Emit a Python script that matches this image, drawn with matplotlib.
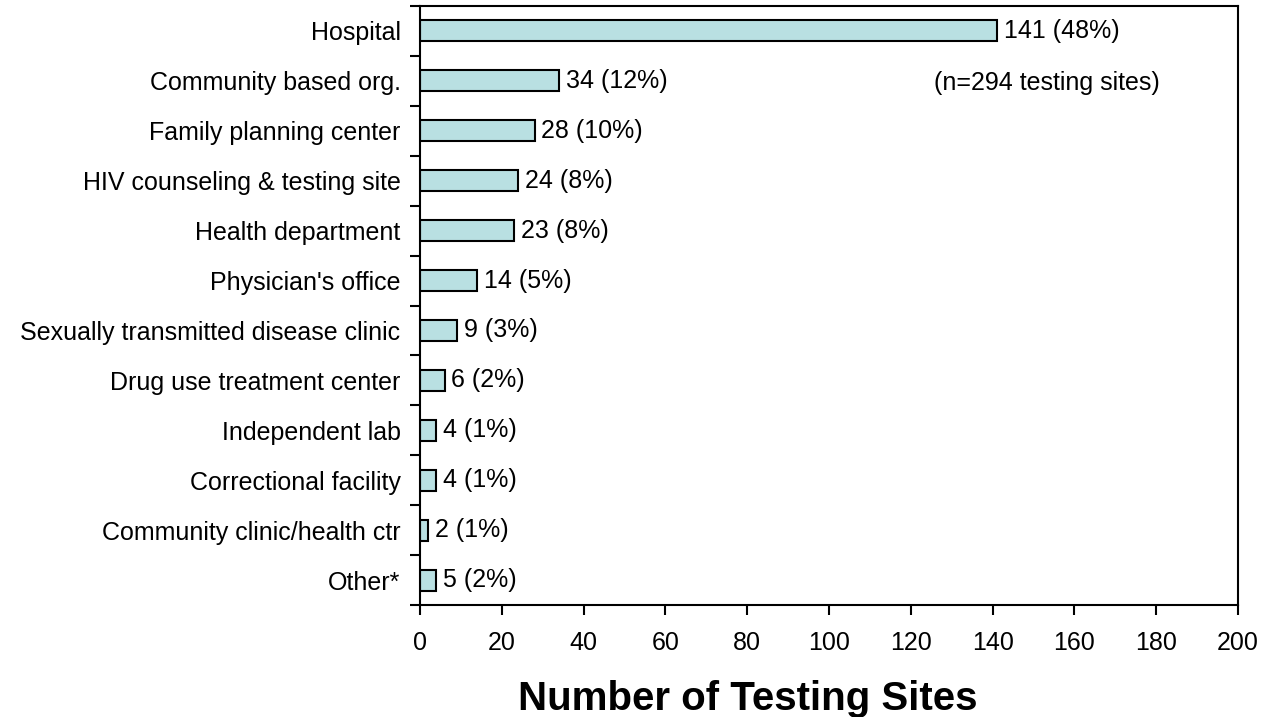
import numpy as np
import matplotlib
matplotlib.use('Agg')
import matplotlib.pyplot as plt

plt.rcParams['font.family'] = ['Liberation Sans', 'DejaVu Sans']

sites = ['Hospital', 'Community based org.', 'Family planning center',
         'HIV counseling & testing site', 'Health department',
         "Physician's office", 'Sexually transmitted disease clinic',
         'Drug use treatment center', 'Independent lab',
         'Correctional facility', 'Community clinic/health ctr', 'Other*']
counts = [141, 34, 28, 24, 23, 14, 9, 6, 4, 4, 2, 4]  # bar lengths as drawn
value_labels = ['141 (48%)', '34 (12%)', '28 (10%)', '24 (8%)', '23 (8%)',
                '14 (5%)', '9 (3%)', '6 (2%)', '4 (1%)', '4 (1%)', '2 (1%)',
                '5 (2%)']
xticks = [0, 20, 40, 60, 80, 100, 120, 140, 160, 180, 200]

fig = plt.figure(figsize=(12.7, 7.17), dpi=100)
ax = fig.add_axes([0.3307, 0.1562, 0.6441, 0.8354])

y = np.arange(len(sites))
ax.barh(y, counts, height=0.42, color='#b9e0e2', edgecolor='black', linewidth=1.5)

for yi, c, lab in zip(y, counts, value_labels):
    ax.annotate(lab, (c, yi), xytext=(5, 0), textcoords='offset points',
                va='center', ha='left', fontsize=18)

ax.set_ylim(len(sites) - 0.5, -0.5)
ax.set_xlim(0, 200)
ax.set_xticks(xticks)
ax.set_yticks(y)
ax.set_yticklabels(sites, fontsize=18)
ax.set_yticks(np.arange(-0.5, len(sites)), minor=True)
ax.tick_params(axis='y', which='major', length=0, pad=14)
ax.tick_params(axis='y', which='minor', length=7, width=1.5, direction='out')
ax.tick_params(axis='x', length=7, width=1.5, direction='out', labelsize=18, pad=12)

for s in ax.spines.values():
    s.set_linewidth(1.5)

ax.text(153.3, 1.05, '(n=294 testing sites)', ha='center', va='center', fontsize=18)

ax.set_xlabel('Number of Testing Sites', fontsize=29, fontweight='bold')
ax.xaxis.set_label_coords(0.401, -0.125)

fig.savefig('out.png', dpi=100)
